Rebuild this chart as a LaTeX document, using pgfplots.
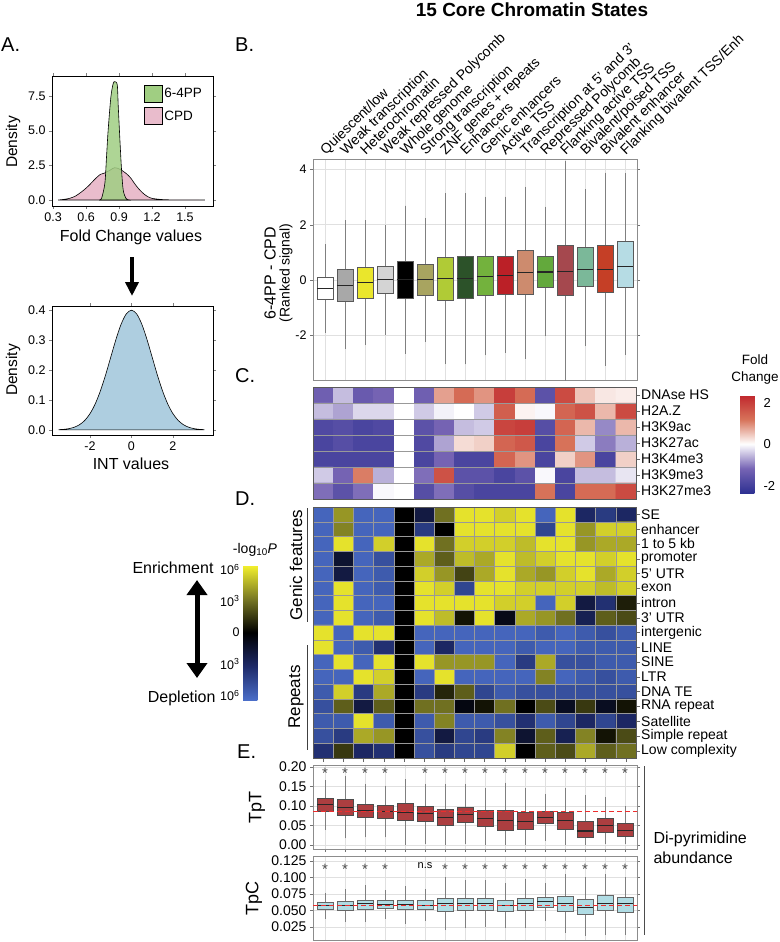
\documentclass[border=0pt]{standalone}
\usepackage{fontspec}
\setmainfont{Liberation Sans}
\usepackage{pgfplots}
\usepackage{pgfplotstable}
\pgfplotsset{compat=1.18}
\usepgfplotslibrary{statistics}
\usetikzlibrary{arrows.meta}

\newcommand{\FS}[1]{\fontsize{#1}{#1}\selectfont}

% chromatin state colours (panel B)
\definecolor{bc0}{RGB}{255,255,255}
\definecolor{bc1}{RGB}{168,168,168}
\definecolor{bc2}{RGB}{234,230,44}
\definecolor{bc3}{RGB}{212,212,212}
\definecolor{bc4}{RGB}{0,0,0}
\definecolor{bc5}{RGB}{168,164,96}
\definecolor{bc6}{RGB}{176,203,54}
\definecolor{bc7}{RGB}{44,82,41}
\definecolor{bc8}{RGB}{115,178,61}
\definecolor{bc9}{RGB}{187,32,39}
\definecolor{bc10}{RGB}{205,139,110}
\definecolor{bc11}{RGB}{99,169,60}
\definecolor{bc12}{RGB}{165,72,78}
\definecolor{bc13}{RGB}{123,184,153}
\definecolor{bc14}{RGB}{197,63,38}
\definecolor{bc15}{RGB}{182,220,228}
\definecolor{tpt}{RGB}{172,62,64}
\definecolor{tpc}{RGB}{176,220,228}
\definecolor{g64}{RGB}{160,206,130}
\definecolor{cpd}{RGB}{233,188,204}
\definecolor{intb}{RGB}{174,206,224}
\definecolor{refl}{RGB}{238,45,45}

\pgfplotsset{
  colormap={fc}{rgb255=(46,49,146) rgb255=(118,100,180) rgb255=(255,255,255) rgb255=(215,115,90) rgb255=(192,39,45)},
  colormap={lp}{rgb255=(75,110,200) rgb255=(30,42,105) rgb255=(0,0,0) rgb255=(120,120,35) rgb255=(245,242,45)},
  base/.style={scale only axis, anchor=north west, /pgf/number format/assume math mode=true,
    tick label style={font=\FS{12.5}}, tick align=outside, major tick length=3pt},
  gg/.style={base, xmin=-0.6, xmax=15.6, width=324pt, xtick={0,...,15}, grid=major,
    grid style={black!12, line width=0.6pt}, axis line style={black!45}, tick style={black!55},
    boxplot/draw direction=y,
    boxplot/every median/.style={draw=black!85, line width=1.1pt},
    boxplot/every whisker/.style={draw=black!50, line width=0.6pt}},
  hm/.style={base, width=323pt, xmin=-0.5, xmax=15.5, y dir=reverse, axis on top,
    minor xtick={0.5,1.5,...,14.5}, xminorgrids=true, yminorgrids=true,
    minor grid style={black!40, line width=0.5pt}, minor tick length=0pt,
    ytick pos=right, yticklabel pos=right, axis line style={black!65}, tick style={black!60},
    major tick length=4pt, yticklabel style={font=\FS{14}, anchor=west, inner sep=1pt}},
  stars/.style={only marks, mark=text, text mark as node=true,
    text mark style={font=\FS{15}, text=black!70, inner sep=0pt}},
}

% one prepared box from row #2 of table #1; fill #3, edge #4, width #5
\newcommand{\boxrow}[5]{%
  \pgfplotstablegetelem{#2}{lw}\of#1\edef\vlw{\pgfplotsretval}%
  \pgfplotstablegetelem{#2}{q1}\of#1\edef\vqa{\pgfplotsretval}%
  \pgfplotstablegetelem{#2}{med}\of#1\edef\vmd{\pgfplotsretval}%
  \pgfplotstablegetelem{#2}{q3}\of#1\edef\vqc{\pgfplotsretval}%
  \pgfplotstablegetelem{#2}{uw}\of#1\edef\vuw{\pgfplotsretval}%
  \edef\temp{\noexpand\addplot[boxplot prepared={draw position=#2, lower whisker=\vlw,
    lower quartile=\vqa, median=\vmd, upper quartile=\vqc, upper whisker=\vuw,
    box extend=#5, whisker extend=0, draw direction=y}, fill=#3, draw=#4, line width=0.6pt] coordinates {};}%
  \temp}

% panel B: 6-4PP - CPD ranked signal per state
\pgfplotstableread{
lw q1 med q3 uw
-1.92 -0.69 -0.30 0.10 1.32
-2.51 -0.77 -0.19 0.40 2.16
-2.36 -0.66 -0.10 0.46 2.16
-1.98 -0.48 0.01 0.51 2.00
-2.67 -0.66 0.01 0.67 2.69
-2.24 -0.56 0.01 0.56 2.25
-3.05 -0.72 0.04 0.81 3.14
-3.05 -0.68 0.07 0.84 3.14
-2.73 -0.57 0.13 0.86 3.02
-2.63 -0.53 0.16 0.87 3.02
-2.85 -0.50 0.26 1.08 3.38
-2.04 -0.28 0.29 0.87 2.66
-3.80 -0.56 0.32 1.25 4.30
-2.40 -0.24 0.37 1.19 3.29
-3.10 -0.43 0.37 1.27 3.89
-2.71 -0.25 0.48 1.40 3.86
}\tabB

% panel E: TpT
\pgfplotstableread{
lw q1 med q3 uw
0.039 0.086 0.105 0.120 0.166
0.017 0.077 0.097 0.116 0.176
0.020 0.071 0.088 0.105 0.157
0.020 0.069 0.087 0.102 0.152
0.000 0.064 0.084 0.106 0.169
0.004 0.061 0.080 0.099 0.157
0.000 0.051 0.071 0.092 0.157
0.003 0.059 0.079 0.097 0.157
0.000 0.049 0.067 0.088 0.146
0.000 0.039 0.063 0.088 0.160
0.000 0.041 0.060 0.084 0.145
0.011 0.056 0.071 0.086 0.131
0.000 0.040 0.062 0.084 0.146
0.000 0.020 0.036 0.062 0.127
0.003 0.034 0.050 0.069 0.122
0.003 0.023 0.038 0.056 0.100
}\tabT

% panel E: TpC
\pgfplotstableread{
lw q1 med q3 uw
0.037 0.0515 0.057 0.0628 0.077
0.032 0.050 0.057 0.0638 0.082
0.032 0.0515 0.060 0.066 0.088
0.037 0.053 0.059 0.0648 0.081
0.030 0.0515 0.059 0.065 0.087
0.034 0.0515 0.058 0.0648 0.083
0.020 0.049 0.060 0.069 0.100
0.0235 0.0505 0.060 0.069 0.0965
0.025 0.0505 0.060 0.069 0.096
0.0235 0.049 0.0577 0.065 0.091
0.0235 0.0505 0.0607 0.069 0.098
0.034 0.054 0.063 0.070 0.091
0.016 0.049 0.060 0.072 0.105
0.011 0.044 0.055 0.0668 0.100
0.013 0.050 0.061 0.0735 0.105
0.013 0.0465 0.060 0.070 0.100
}\tabC

\begin{document}
\begin{tikzpicture}
\useasboundingbox (0pt,0pt) rectangle (779pt,-942pt);

% ---------- titles and panel letters
\node[font=\bfseries\FS{19}] at (532pt,-10pt) {15 Core Chromatin States};
\node[font=\FS{20}, anchor=base west, inner sep=0pt] at (1pt,-52pt) {A.};
\node[font=\FS{20}, anchor=base west, inner sep=0pt] at (235pt,-52pt) {B.};
\node[font=\FS{20}, anchor=base west, inner sep=0pt] at (235pt,-382pt) {C.};
\node[font=\FS{20}, anchor=base west, inner sep=0pt] at (235pt,-505pt) {D.};
\node[font=\FS{20}, anchor=base west, inner sep=0pt] at (237pt,-758pt) {E.};

% ---------- panel A, top
\begin{axis}[base, at={(52pt,-76pt)}, width=161pt, height=130pt,
  xmin=0.29, xmax=1.755, ymin=-0.43, ymax=8.94,
  xtick={0.3,0.6,0.9,1.2,1.5}, ytick={0,2.5,5,7.5},
  xticklabel style={/pgf/number format/.cd, fixed, fixed zerofill, precision=1},
  yticklabel style={/pgf/number format/.cd, fixed, fixed zerofill, precision=1},
  legend style={at={(rel axis cs:0.55,0.95)}, anchor=north west, draw=none, fill=none,
    font=\FS{13.5}, row sep=5pt},
  legend cell align=left,
  legend image code/.code={\draw[#1, draw=black, line width=0.6pt] (0pt,-8.5pt) rectangle (18pt,8.5pt);}]
\addlegendimage{fill=g64}\addlegendentry{6-4PP}
\addlegendimage{fill=cpd}\addlegendentry{CPD}
\addplot[forget plot, fill=cpd, draw=black, line width=0.6pt, smooth] coordinates {
(0.345,0) (0.40,0.05) (0.45,0.12) (0.50,0.27) (0.54,0.48) (0.58,0.72) (0.63,1.08)
(0.68,1.5) (0.73,1.85) (0.77,1.95) (0.82,2.16) (0.86,2.33) (0.91,2.21) (0.97,1.88)
(1.01,1.55) (1.04,1.2) (1.08,0.8) (1.12,0.48) (1.16,0.25) (1.20,0.12) (1.27,0.05)
(1.33,0.02) (1.45,0.01) (1.68,0)} \closedcycle;
\addplot[forget plot, fill=g64, fill opacity=0.85, draw=black, line width=0.6pt, smooth] coordinates {
(0.72,0) (0.741,0.12) (0.771,1.2) (0.786,3.1) (0.801,5.05) (0.826,7.45) (0.847,8.4)
(0.862,8.53) (0.884,8.29) (0.893,6.73) (0.908,4.33) (0.923,2.16) (0.938,0.72)
(0.963,0.12) (0.99,0)} \closedcycle;
\end{axis}
\node[rotate=90, font=\FS{15.5}] at (13pt,-142pt) {Density};
\node[font=\FS{16}] at (131pt,-237pt) {Fold Change values};
\draw[line width=3.5pt, -{Triangle[length=14pt,width=13pt]}] (132pt,-257pt) -- (132pt,-296pt);

% ---------- panel A, bottom
\begin{axis}[base, at={(52pt,-306pt)}, width=161pt, height=129pt,
  xmin=-3.83, xmax=3.93, ymin=-0.017, ymax=0.413,
  xtick={-2,0,2}, ytick={0,0.1,0.2,0.3,0.4},
  yticklabel style={/pgf/number format/.cd, fixed, fixed zerofill, precision=1}]
\addplot[fill=intb, draw=black, line width=0.6pt, smooth] coordinates {
(-3.5,0.0009) (-3.25,0.0020) (-3,0.0044) (-2.75,0.0091) (-2.5,0.0175) (-2.25,0.0317)
(-2,0.0540) (-1.75,0.0863) (-1.5,0.1295) (-1.25,0.1826) (-1,0.2420) (-0.75,0.3011)
(-0.5,0.3521) (-0.25,0.3867) (0,0.3989) (0.25,0.3867) (0.5,0.3521) (0.75,0.3011)
(1,0.2420) (1.25,0.1826) (1.5,0.1295) (1.75,0.0863) (2,0.0540) (2.25,0.0317)
(2.5,0.0175) (2.75,0.0091) (3,0.0044) (3.25,0.0020) (3.5,0.0009)} \closedcycle;
\end{axis}
\node[rotate=90, font=\FS{15.5}] at (13pt,-370pt) {Density};
\node[font=\FS{16}] at (131pt,-464pt) {INT values};

% ---------- panel B
\begin{axis}[gg, at={(313pt,-159pt)}, height=221pt, ymin=-3.62, ymax=4.38,
  ytick={-2,0,2,4}, xtick style={draw=none}, xticklabel pos=top,
  xticklabels={Quiescent/low, Weak transcription, Heterochromatin, Weak repressed Polycomb,
    Whole genome, Strong transcription, ZNF genes + repeats, Enhancers, Genic enhancers,
    Active TSS, Transcription at 5’ and 3’, Repressed Polycomb, Flanking active TSS,
    Bivalent/poised TSS, Bivalent enhancer, Flanking bivalent TSS/Enh},
  xticklabel style={rotate=44, anchor=base west, font=\FS{14}, inner sep=1pt}]
\pgfplotsinvokeforeach{0,...,15}{\boxrow{\tabB}{#1}{bc#1}{black!65}{0.82}}
\end{axis}
\node[rotate=90, font=\FS{16}] at (270pt,-273pt) {6-4PP - CPD};
\node[rotate=90, font=\FS{14}] at (286pt,-273pt) {(Ranked signal)};

% ---------- panel C
\begin{axis}[hm, at={(313pt,-387pt)}, height=112pt, ymin=-0.5, ymax=6.5,
  xtick=\empty, ytick={0,...,6}, minor ytick={0.5,1.5,...,5.5},
  yticklabels={DNAse HS, H2A.Z, H3K9ac, H3K27ac, H3K4me3, H3K9me3, H3K27me3},
  colormap name=fc, point meta min=-2.36, point meta max=2.36,
  colorbar, colorbar style={at={(parent axis.north east)}, anchor=north west,
    xshift=95.5pt, yshift=-8pt, width=20pt, height=98pt, scale only axis,
    ytick={-2,0,2}, major tick length=0pt, axis line style={draw=none},
    yticklabel style={font=\FS{13}}, /pgf/number format/assume math mode=true}]
\addplot[matrix plot*, mesh/cols=16, point meta=explicit] coordinates {
(0,0)[-1.3] (1,0)[-0.5] (2,0)[-1.4] (3,0)[-1.2] (4,0)[0] (5,0)[-1.3] (6,0)[0.8] (7,0)[1.3] (8,0)[0.9] (9,0)[2.0] (10,0)[1.3] (11,0)[-1.6] (12,0)[1.8] (13,0)[0.5] (14,0)[0.2] (15,0)[0.15]
(0,1)[-0.5] (1,1)[-0.7] (2,1)[-0.3] (3,1)[-0.3] (4,1)[0] (5,1)[-0.4] (6,1)[-0.1] (7,1)[0] (8,1)[-0.4] (9,1)[1.5] (10,1)[0.1] (11,1)[-0.05] (12,1)[1.4] (13,1)[1.7] (14,1)[0.6] (15,1)[1.8]
(0,2)[-1.8] (1,2)[-1.7] (2,2)[-1.9] (3,2)[-1.8] (4,2)[0] (5,2)[-1.6] (6,2)[-1.2] (7,2)[-0.5] (8,2)[-0.4] (9,2)[1.9] (10,2)[2.0] (11,2)[-1.7] (12,2)[1.4] (13,2)[0.6] (14,2)[-0.9] (15,2)[0.6]
(0,3)[-1.9] (1,3)[-1.7] (2,3)[-1.9] (3,3)[-1.9] (4,3)[0] (5,3)[-1.8] (6,3)[-0.7] (7,3)[0.3] (8,3)[0.4] (9,3)[1.4] (10,3)[1.6] (11,3)[-1.9] (12,3)[1.2] (13,3)[-0.4] (14,3)[-1.0] (15,3)[-0.6]
(0,4)[-1.9] (1,4)[-1.9] (2,4)[-1.9] (3,4)[-1.9] (4,4)[0] (5,4)[-1.9] (6,4)[-1.2] (7,4)[-1.9] (8,4)[-1.9] (9,4)[1.4] (10,4)[0.9] (11,4)[-1.9] (12,4)[0.4] (13,4)[0.9] (14,4)[-1.9] (15,4)[0.4]
(0,5)[-0.4] (1,5)[-1.2] (2,5)[1.1] (3,5)[-0.6] (4,5)[0] (5,5)[-1.1] (6,5)[1.7] (7,5)[-1.6] (8,5)[-1.6] (9,5)[-1.9] (10,5)[-1.6] (11,5)[-0.05] (12,5)[-1.9] (13,5)[-0.5] (14,5)[-0.5] (15,5)[-0.2]
(0,6)[-1.1] (1,6)[-1.6] (2,6)[-1.1] (3,6)[-0.05] (4,6)[0] (5,6)[-1.7] (6,6)[-1.1] (7,6)[-1.7] (8,6)[-1.9] (9,6)[-1.9] (10,6)[-1.9] (11,6)[1.2] (12,6)[-1.9] (13,6)[1.3] (14,6)[1.3] (15,6)[1.8]
};
\end{axis}
\node[font=\fontsize{13.5}{17}\selectfont, align=center] at (755pt,-370pt) {Fold\\Change};

% ---------- panel D
\begin{axis}[hm, at={(313pt,-507pt)}, height=251pt, ymin=-0.5, ymax=16.5,
  xtick={0,...,15}, xticklabels={}, xtick pos=bottom,
  ytick={0,...,16}, minor ytick={0.5,1.5,...,15.5},
  yticklabels={SE, enhancer, 1 to 5 kb, promoter, 5’ UTR, exon, intron, 3’ UTR, intergenic,
    LINE, SINE, LTR, DNA TE, RNA repeat, Satellite, Simple repeat, Low complexity},
  colormap name=lp, point meta min=-6.4, point meta max=6.4,
  colorbar, colorbar style={at={(parent axis.north west)}, anchor=north east,
    xshift=-58.5pt, yshift=-58pt, width=20pt, height=135pt, scale only axis,
    yticklabel pos=left, ytick={-6,-3,0,3,6},
    yticklabels={10\textsuperscript{6},10\textsuperscript{3},0,10\textsuperscript{3},10\textsuperscript{6}},
    major tick length=0pt, axis line style={draw=none}, yticklabel style={font=\FS{12.5}}}]
\addplot[matrix plot*, mesh/cols=16, point meta=explicit] coordinates {
(0,0)[-6] (1,0)[4] (2,0)[-6] (3,0)[-6] (4,0)[0] (5,0)[-2] (6,0)[3] (7,0)[6] (8,0)[6] (9,0)[5.5] (10,0)[6] (11,0)[-6] (12,0)[6] (13,0)[-3] (14,0)[-4] (15,0)[-3]
(0,1)[-6] (1,1)[3.5] (2,1)[-6] (3,1)[-6] (4,1)[0] (5,1)[-4] (6,1)[0] (7,1)[6] (8,1)[6] (9,1)[6] (10,1)[6] (11,1)[-4.5] (12,1)[6] (13,1)[4] (14,1)[5.5] (15,1)[5.5]
(0,2)[-6] (1,2)[6] (2,2)[-6] (3,2)[5.5] (4,2)[0] (5,2)[6] (6,2)[3] (7,2)[5.5] (8,2)[5.5] (9,2)[5.5] (10,2)[5] (11,2)[6] (12,2)[6] (13,2)[4] (14,2)[4.5] (15,2)[4.5]
(0,3)[-6] (1,3)[-1.5] (2,3)[-6] (3,3)[-5] (4,3)[0] (5,3)[4.5] (6,3)[2.5] (7,3)[5] (8,3)[4.5] (9,3)[6] (10,3)[5] (11,3)[5.5] (12,3)[6] (13,3)[6] (14,3)[5.5] (15,3)[6]
(0,4)[-6] (1,4)[-2] (2,4)[-6] (3,4)[-5.5] (4,4)[0] (5,4)[5.5] (6,4)[4] (7,4)[1.8] (8,4)[4.5] (9,4)[6] (10,4)[4.5] (11,4)[4] (12,4)[5.5] (13,4)[6] (14,4)[4.5] (15,4)[5.5]
(0,5)[-6] (1,5)[6] (2,5)[-6] (3,5)[-5.5] (4,5)[0] (5,5)[6] (6,5)[5.5] (7,5)[-4.5] (8,5)[6] (9,5)[6] (10,5)[5.5] (11,5)[5.5] (12,5)[5.5] (13,5)[5.5] (14,5)[5] (15,5)[5.5]
(0,6)[-6] (1,6)[6] (2,6)[-6] (3,6)[-6] (4,6)[0] (5,6)[6] (6,6)[6] (7,6)[6] (8,6)[6] (9,6)[5.5] (10,6)[5.5] (11,6)[-6] (12,6)[5.5] (13,6)[-2] (14,6)[-3.5] (15,6)[0.8]
(0,7)[-6] (1,7)[6] (2,7)[-6] (3,7)[-5.5] (4,7)[0] (5,7)[6] (6,7)[5] (7,7)[0.5] (8,7)[6] (9,7)[-0.7] (10,7)[4.5] (11,7)[4] (12,7)[3] (13,7)[-2.5] (14,7)[2.5] (15,7)[2]
(0,8)[6] (1,8)[-6] (2,8)[6] (3,8)[6] (4,8)[0] (5,8)[-6] (6,8)[-6] (7,8)[-6] (8,8)[-6] (9,8)[-6] (10,8)[-6] (11,8)[-5.5] (12,8)[-6] (13,8)[-5.5] (14,8)[-5] (15,8)[-5.5]
(0,9)[6] (1,9)[-6] (2,9)[-5.5] (3,9)[-3.5] (4,9)[0] (5,9)[-6] (6,9)[-3] (7,9)[-6] (8,9)[-6] (9,9)[-6] (10,9)[-5.5] (11,9)[-6] (12,9)[-6] (13,9)[-5.5] (14,9)[-5.5] (15,9)[-5.5]
(0,10)[-6] (1,10)[6] (2,10)[-6] (3,10)[6] (4,10)[0] (5,10)[6] (6,10)[4] (7,10)[4] (8,10)[4] (9,10)[-6] (10,10)[-4] (11,10)[4.5] (12,10)[-5] (13,10)[-5] (14,10)[-5.5] (15,10)[-5.5]
(0,11)[-6] (1,11)[-6] (2,11)[6] (3,11)[5.5] (4,11)[0] (5,11)[-6] (6,11)[6] (7,11)[-6] (8,11)[-6] (9,11)[-6] (10,11)[-6] (11,11)[3.5] (12,11)[-6] (13,11)[-5.5] (14,11)[-5] (15,11)[-5.5]
(0,12)[-5.5] (1,12)[5.5] (2,12)[-4] (3,12)[4.5] (4,12)[0] (5,12)[-4] (6,12)[1] (7,12)[2.5] (8,12)[-4.5] (9,12)[-5.5] (10,12)[-5] (11,12)[-5] (12,12)[-5] (13,12)[-5] (14,12)[-5] (15,12)[-5]
(0,13)[-5] (1,13)[2.5] (2,13)[-2] (3,13)[2.5] (4,13)[0] (5,13)[3] (6,13)[3] (7,13)[-0.5] (8,13)[0.5] (9,13)[3] (10,13)[0] (11,13)[2] (12,13)[-1] (13,13)[1.5] (14,13)[-1] (15,13)[0.5]
(0,14)[-5.5] (1,14)[-5.5] (2,14)[6] (3,14)[-5.5] (4,14)[0] (5,14)[-5.5] (6,14)[3.5] (7,14)[-5.5] (8,14)[-5.5] (9,14)[-5] (10,14)[-3.5] (11,14)[-5.5] (12,14)[-4.5] (13,14)[-3] (14,14)[-4.5] (15,14)[-3]
(0,15)[-5] (1,15)[-4] (2,15)[4.5] (3,15)[4] (4,15)[0] (5,15)[-5] (6,15)[-2] (7,15)[-4.5] (8,15)[-4] (9,15)[3.5] (10,15)[-1.5] (11,15)[2.5] (12,15)[-2.5] (13,15)[3.5] (14,15)[0.5] (15,15)[2]
(0,16)[-3.5] (1,16)[1.5] (2,16)[-3] (3,16)[-3.5] (4,16)[0] (5,16)[-5] (6,16)[-4] (7,16)[-4.5] (8,16)[-4.5] (9,16)[5.5] (10,16)[0] (11,16)[2.5] (12,16)[2] (13,16)[4.5] (14,16)[2.5] (15,16)[3]
};
\end{axis}
\node[font=\FS{14}] at (255pt,-550pt) {-log\textsubscript{10}\textit{P}};
\node[font=\FS{16}, anchor=east] at (217pt,-568pt) {Enrichment};
\node[font=\FS{16}, anchor=east] at (219pt,-698pt) {Depletion};
\draw[line width=5pt, {Triangle[length=15pt,width=20pt]}-{Triangle[length=15pt,width=20pt]}] (197pt,-580pt) -- (197pt,-678pt);
\draw[black!75, line width=0.8pt] (307pt,-508pt) -- (307pt,-622pt);
\draw[black!75, line width=0.8pt] (307pt,-645pt) -- (307pt,-750pt);
\node[rotate=90, font=\FS{17}] at (296pt,-565pt) {Genic features};
\node[rotate=90, font=\FS{17}] at (296pt,-697pt) {Repeats};

% ---------- panel E, TpT
\begin{axis}[gg, at={(313pt,-765pt)}, height=84pt, ymin=-0.010, ymax=0.205,
  xticklabels={}, xtick pos=bottom, ytick={0,0.05,0.1,0.15,0.2},
  yticklabel style={font=\FS{14}, /pgf/number format/.cd, fixed, fixed zerofill, precision=2}]
\pgfplotsinvokeforeach{0,...,15}{\boxrow{\tabT}{#1}{tpt}{black!70}{0.78}}
\addplot[color=refl, solid, dash pattern=on 5pt off 3pt, line width=1.1pt] coordinates {(-1,0.086) (16,0.086)};
\addplot[stars, text mark={*}] coordinates {
(0,0.183) (1,0.183) (2,0.183) (3,0.183) (5,0.183) (6,0.183) (7,0.183) (8,0.183)
(9,0.183) (10,0.183) (11,0.183) (12,0.183) (13,0.183) (14,0.183) (15,0.183)};
\end{axis}
\node[rotate=90, font=\FS{18}] at (257pt,-807pt) {TpT};

% ---------- panel E, TpC
\begin{axis}[gg, at={(313pt,-856pt)}, height=84pt, ymin=0.005, ymax=0.1326,
  xticklabels={}, xmajorticks=false, ytick={0.025,0.05,0.075,0.1,0.125},
  yticklabel style={font=\FS{14}, /pgf/number format/.cd, fixed, fixed zerofill, precision=3}]
\pgfplotsinvokeforeach{0,...,15}{\boxrow{\tabC}{#1}{tpc}{black!60}{0.78}}
\addplot[color=refl, solid, dash pattern=on 5pt off 3pt, line width=1.1pt] coordinates {(-1,0.058) (16,0.058)};
\addplot[stars, text mark={*}] coordinates {
(0,0.113) (1,0.113) (2,0.113) (3,0.113) (6,0.113) (7,0.113) (8,0.113)
(9,0.113) (10,0.113) (11,0.113) (12,0.113) (13,0.113) (14,0.113) (15,0.113)};
\addplot[stars, text mark={n.s}, text mark style={font=\FS{11}}] coordinates {(5,0.118)};
\end{axis}
\node[rotate=90, font=\FS{18}] at (254pt,-898pt) {TpC};

\draw[black!70, line width=0.8pt] (644pt,-766pt) -- (644pt,-935pt);
\node[font=\fontsize{16}{20}\selectfont, align=left, anchor=west] at (650pt,-848pt) {Di-pyrimidine\\abundance};
\end{tikzpicture}
\end{document}
